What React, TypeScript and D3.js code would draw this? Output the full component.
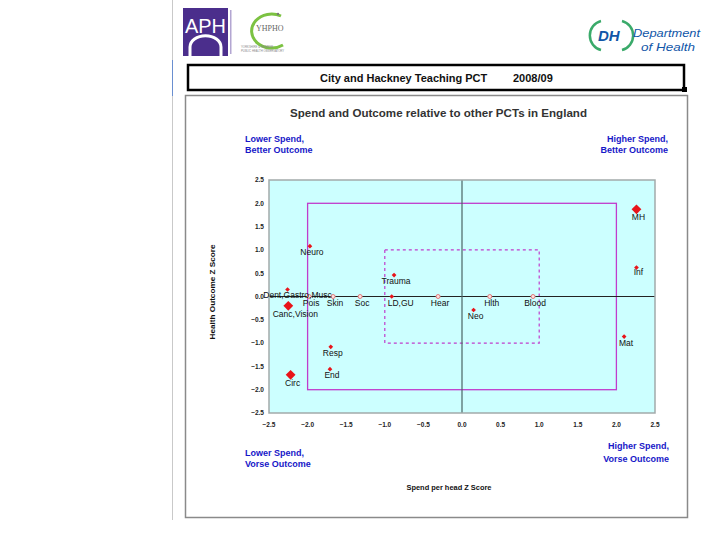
import React from 'react';
import * as d3 from 'd3';

// ---- data ----
const conditions = ["Neuro", "Trauma", "Dent,Gastro,Musc", "Pois", "Skin", "Soc", "LD,GU", "Hear", "Hlth", "Blood", "Neo", "Mat", "MH", "Inf", "Canc,Vision", "Resp", "End", "Circ"];
const spendZ = [-1.97, -0.88, -2.26, -1.98, -1.67, -1.32, -0.91, -0.31, 0.36, 0.92, 0.15, 2.10, 2.26, 2.26, -2.25, -1.70, -1.71, -2.22];
const outcomeZ = [1.08, 0.46, 0.15, 0, 0, 0, 0, 0, 0, 0, -0.29, -0.86, 1.87, 0.62, -0.20, -1.08, -1.56, -1.68];
const markerKind = ["small", "small", "small", "hollow", "hollow", "hollow", "small", "hollow", "hollow", "hollow", "small", "small", "large", "small", "large", "small", "small", "large"];
const axisTicks = [-2.5, -2, -1.5, -1, -0.5, 0, 0.5, 1, 1.5, 2, 2.5];
const outerBand = 2;
const innerBand = 1;

// label nudges (style only)
const labelDx: Record<string, number> = { "Dent,Gastro,Musc": 8, "LD,GU": 7, "Canc,Vision": 5 };
const labelDy: Record<string, number> = { "Inf": 7, "Dent,Gastro,Musc": 8.5 };

const W = 728, H = 546;
const font = "Arial, 'Liberation Sans', sans-serif";
const blue = "#1717c8";

export default function App() {
  const x = d3.scaleLinear().domain([-2.5, 2.5]).range([269, 655]);
  const y = d3.scaleLinear().domain([-2.5, 2.5]).range([413, 180]);
  const fmt = d3.format(".1f");
  const bigDiamond = d3.symbol(d3.symbolSquare, 48)();
  const smallDiamond = d3.symbol(d3.symbolSquare, 11)();

  const pts = conditions.map((name, i) => ({ name, sx: spendZ[i], oy: outcomeZ[i], kind: markerKind[i] }));

  return (
    <svg width={W} height={H} style={{ position: 'absolute', left: 0, top: 0, background: '#fff' }} fontFamily={font}>
      {/* page edge line */}
      <line x1={172.5} y1={0} x2={172.5} y2={520} stroke="#c9c9c9" strokeWidth={1} />
      <line x1={172.5} y1={60} x2={172.5} y2={96} stroke="#6a8fd0" strokeWidth={1} />

      {/* APHO logo */}
      <g>
        <rect x={183} y={8} width={45} height={48} fill="#4b2e8c" />
        <text x={185} y={33} fill="#fff" fontSize={20} textLength={41} lengthAdjust="spacingAndGlyphs" fontFamily="Arial, sans-serif">APH</text>
        <path d="M190,56 L190,47 A15,11 0 0 1 221,47 L221,56" fill="none" stroke="#fff" strokeWidth={3} />
        <rect x={230} y={10} width={1.5} height={44} fill="#b3a6d2" />
      </g>

      {/* YHPHO logo */}
      <g>
        <path d="M281,16 A20,17 0 1 0 283,45" fill="none" stroke="#7cc242" strokeWidth={3} />
        <circle cx={278} cy={14} r={1.2} fill="#777" />
        <text x={256} y={31} fontSize={8} fill="#666" fontFamily="'Times New Roman', serif">YHPHO</text>
        <text x={241} y={48} fontSize={2.8} fill="#888">YORKSHIRE &amp; HUMBER</text>
        <text x={241} y={52} fontSize={2.8} fill="#888">PUBLIC HEALTH OBSERVATORY</text>
      </g>

      {/* DH logo */}
      <g>
        <path d="M601,21 A15,15 0 0 0 601,50" fill="none" stroke="#3aaa6a" strokeWidth={2.5} />
        <path d="M622,21 A15,15 0 0 1 622,50" fill="none" stroke="#3aaa6a" strokeWidth={2.5} />
        <text x={598} y={41} fontSize={15} fontWeight="bold" fontStyle="italic" fill="#1156a8">DH</text>
        <text x={633} y={37} fontSize={11.5} fontStyle="italic" fill="#1156a8" textLength={67} lengthAdjust="spacingAndGlyphs">Department</text>
        <text x={641} y={51} fontSize={11.5} fontStyle="italic" fill="#1156a8" textLength={54} lengthAdjust="spacingAndGlyphs">of Health</text>
      </g>

      {/* header box */}
      <rect x={188} y={65} width={496} height={25} fill="#fff" stroke="#000" strokeWidth={2.5} />
      <rect x={682} y={87} width={5} height={5} fill="#000" />
      <text x={320} y={82} fontSize={11} fontWeight="bold" fill="#111">City and Hackney Teaching PCT</text>
      <text x={513} y={82} fontSize={11} fontWeight="bold" fill="#111">2008/09</text>

      {/* chart frame */}
      <rect x={185.5} y={95.5} width={502} height={422} fill="#fff" stroke="#8a8a8a" strokeWidth={1.5} />

      <text x={438.5} y={117} textAnchor="middle" fontSize={11.5} fontWeight="bold" fill="#333" textLength={297} lengthAdjust="spacingAndGlyphs">Spend and Outcome relative to other PCTs in England</text>

      {/* corner labels */}
      <g fontSize={9} fontWeight="bold" fill={blue}>
        <text x={245} y={142}>Lower Spend,</text>
        <text x={245} y={153}>Better Outcome</text>
        <text x={668} y={142} textAnchor="end">Higher Spend,</text>
        <text x={668} y={153} textAnchor="end">Better Outcome</text>
        <text x={245} y={456}>Lower Spend,</text>
        <text x={245} y={467}>Vorse Outcome</text>
        <text x={669} y={449} textAnchor="end">Higher Spend,</text>
        <text x={669} y={462} textAnchor="end">Vorse Outcome</text>
      </g>

      {/* plot area */}
      <rect x={x(-2.5)} y={y(2.5)} width={x(2.5) - x(-2.5)} height={y(-2.5) - y(2.5)} fill="#ccffff" />
      <rect x={x(-outerBand)} y={y(outerBand)} width={x(outerBand) - x(-outerBand)} height={y(-outerBand) - y(outerBand)} fill="none" stroke="#c03ccc" strokeWidth={1.3} />
      <rect x={x(-innerBand)} y={y(innerBand)} width={x(innerBand) - x(-innerBand)} height={y(-innerBand) - y(innerBand)} fill="none" stroke="#c03ccc" strokeWidth={1.2} strokeDasharray="3,3" />
      <line x1={x(-2.5)} x2={x(2.5)} y1={y(0)} y2={y(0)} stroke="#222" strokeWidth={1} />
      <line x1={x(0)} x2={x(0)} y1={y(2.5)} y2={y(-2.5)} stroke="#4a6464" strokeWidth={1.2} />
      <rect x={x(-2.5)} y={y(2.5)} width={x(2.5) - x(-2.5)} height={y(-2.5) - y(2.5)} fill="none" stroke="#a2aaaa" strokeWidth={1.5} />

      {/* markers */}
      {pts.map((p) => {
        const cx = x(p.sx), cy = y(p.oy);
        if (p.kind === 'hollow') {
          return <circle key={p.name} cx={cx} cy={cy} r={2} fill="#ffe0e0" stroke="#e07a7a" strokeWidth={1} />;
        }
        const d = p.kind === 'large' ? bigDiamond : smallDiamond;
        return <path key={p.name} d={d as string} transform={`translate(${cx},${cy}) rotate(45)`} fill="#e8141a" />;
      })}

      {/* point labels */}
      <g fontSize={8.5} fill="#111">
        {pts.map((p) => {
          const cx = x(p.sx), cy = y(p.oy);
          const dy = labelDy[p.name] ?? (p.kind === 'large' ? 11 : 9);
          return <text key={p.name} x={cx + 2 + (labelDx[p.name] ?? 0)} y={cy + dy} textAnchor="middle">{p.name}</text>;
        })}
      </g>

      {/* tick labels */}
      <g fontSize={6.5} fontWeight="bold" fill="#222">
        {axisTicks.map((t) => (
          <text key={'x' + t} x={x(t)} y={426.5} textAnchor="middle">{fmt(t)}</text>
        ))}
        {axisTicks.map((t) => (
          <text key={'y' + t} x={264} y={y(t) + 2.3} textAnchor="end">{fmt(t)}</text>
        ))}
      </g>

      {/* axis titles */}
      <text x={449} y={489.5} textAnchor="middle" fontSize={7.5} fontWeight="bold" fill="#111" textLength={85} lengthAdjust="spacingAndGlyphs">Spend per head Z Score</text>
      <text transform="translate(214.5,292) rotate(-90)" textAnchor="middle" fontSize={7.5} fontWeight="bold" fill="#111" textLength={95} lengthAdjust="spacingAndGlyphs">Health Outcome Z Score</text>
    </svg>
  );
}
